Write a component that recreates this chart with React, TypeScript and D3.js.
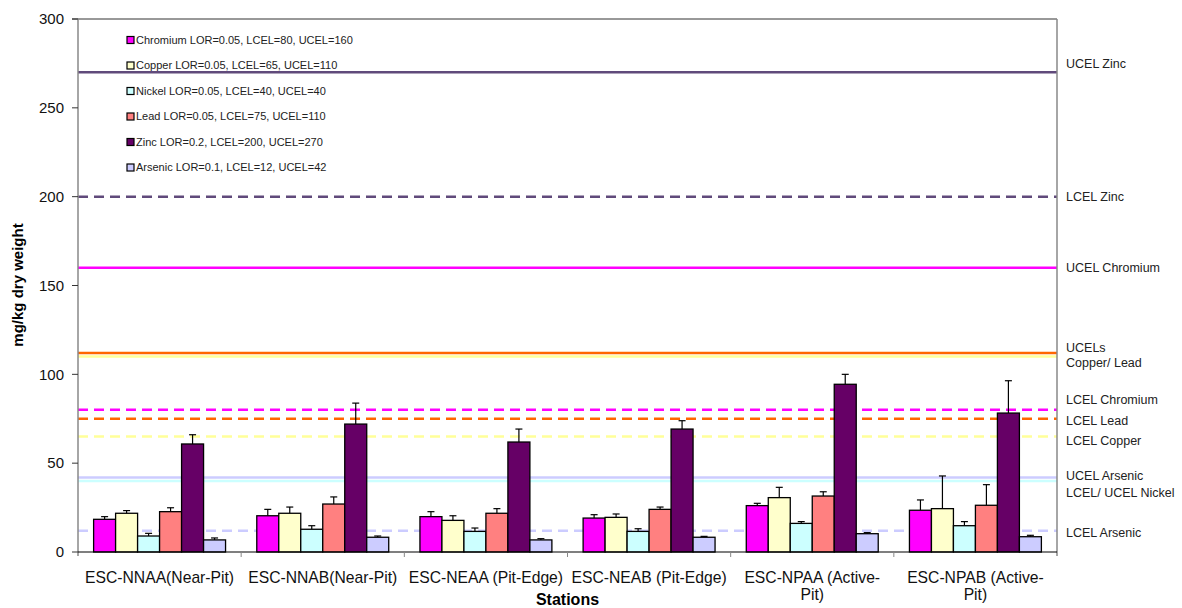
import React from 'react';
import * as d3 from 'd3';

// stations on the x axis (label lines as shown under the axis)
const stations = [
  'ESC-NNAA(Near-Pit)',
  'ESC-NNAB(Near-Pit)',
  'ESC-NEAA (Pit-Edge)',
  'ESC-NEAB (Pit-Edge)',
  'ESC-NPAA (Active-Pit)',
  'ESC-NPAB (Active-Pit)',
];
const stationLines = [
  ['ESC-NNAA(Near-Pit)'],
  ['ESC-NNAB(Near-Pit)'],
  ['ESC-NEAA (Pit-Edge)'],
  ['ESC-NEAB (Pit-Edge)'],
  ['ESC-NPAA (Active-', 'Pit)'],
  ['ESC-NPAB (Active-', 'Pit)'],
];

const metals = ['Chromium', 'Copper', 'Nickel', 'Lead', 'Zinc', 'Arsenic'];
const metalColors = ['#FF00FF', '#FFFFCC', '#CCFFFF', '#FF8080', '#660066', '#CCCCFF'];
const legendLabels = [
  'Chromium LOR=0.05, LCEL=80, UCEL=160',
  'Copper LOR=0.05, LCEL=65, UCEL=110',
  'Nickel LOR=0.05, LCEL=40, UCEL=40',
  'Lead LOR=0.05, LCEL=75, UCEL=110',
  'Zinc LOR=0.2, LCEL=200, UCEL=270',
  'Arsenic LOR=0.1, LCEL=12, UCEL=42',
];

// mean values per metal, one entry per station
const chromium = [18.4, 20.4, 19.9, 19.1, 26.1, 23.5];
const copper = [21.8, 21.8, 17.8, 19.5, 30.6, 24.4];
const nickel = [9.0, 12.8, 11.6, 11.6, 16.1, 14.8];
const lead = [22.7, 27.0, 21.8, 24.0, 31.5, 26.3];
const zinc = [60.8, 72.0, 61.9, 69.2, 94.4, 78.2];
const arsenic = [6.8, 8.3, 6.8, 8.3, 10.3, 8.6];

// error bar (upper) amounts
const chromiumErr = [1.5, 3.6, 2.8, 1.9, 1.3, 5.8];
const copperErr = [1.5, 3.5, 2.6, 1.9, 5.8, 18.4];
const nickelErr = [1.5, 2.0, 1.9, 1.5, 1.0, 2.3];
const leadErr = [2.2, 4.0, 2.6, 1.3, 2.4, 11.6];
const zincErr = [5.2, 11.8, 7.3, 4.7, 5.6, 18.2];
const arsenicErr = [1.1, 0.7, 0.7, 0.5, 0.6, 0.8];

const means = [chromium, copper, nickel, lead, zinc, arsenic];
const errs = [chromiumErr, copperErr, nickelErr, leadErr, zincErr, arsenicErr];

// guideline levels
const guideValues = [270, 200, 160, 112, 110, 80, 75, 65, 42, 40, 12];
const guideColors = ['#604A7B', '#604A7B', '#FF00FF', '#FF6600', '#FFFF99', '#FF00FF', '#FF6600', '#FFFF99', '#CCCCFF', '#CCFFFF', '#CCCCFF'];
const guideDashed = [false, true, false, false, false, true, true, true, false, false, true];

// labels on the right, placed at a value on the y axis
const rightLabels = [
  'UCEL Zinc', 'LCEL Zinc', 'UCEL Chromium', 'UCELs', 'Copper/ Lead',
  'LCEL Chromium', 'LCEL Lead', 'LCEL Copper', 'UCEL Arsenic', 'LCEL/ UCEL Nickel', 'LCEL Arsenic',
];
const rightLabelValues = [275, 200, 160, 115.2, 106.5, 85.5, 73.9, 62.6, 43.2, 33.4, 10.9];

const yTicks = [0, 50, 100, 150, 200, 250, 300];

export default function App() {
  const width = 1182;
  const height = 608;
  const left = 78;
  const right = 1057;
  const top = 19;
  const bottom = 552;
  const font = 'Arial, "Liberation Sans", Helvetica, sans-serif';

  const y = d3.scaleLinear().domain([0, 300]).range([bottom, top]);
  const x0 = d3.scaleBand().domain(stations).range([left, right]).padding(0);
  const x1 = d3.scaleBand().domain(metals).range([0, x0.bandwidth()]).paddingInner(0).paddingOuter(0.71);

  return (
    <svg width={width} height={height} style={{ position: 'absolute', left: 0, top: 0 }} fontFamily={font}>
      <rect x={0} y={0} width={width} height={height} fill="#fff" />

      {/* guideline lines */}
      {guideValues.map((v, i) => (
        <line
          key={'g' + i}
          x1={left}
          x2={right}
          y1={y(v)}
          y2={y(v)}
          stroke={guideColors[i]}
          strokeWidth={2.5}
          strokeDasharray={guideDashed[i] ? '10,6' : undefined}
        />
      ))}

      {/* bars */}
      {stations.map((s, si) => (
        <g key={s} transform={`translate(${x0(s)},0)`}>
          {metals.map((m, mi) => {
            const v = means[mi][si];
            const e = errs[mi][si];
            const bx = x1(m)!;
            const cx = bx + x1.bandwidth() / 2;
            return (
              <g key={m}>
                <line x1={cx} x2={cx} y1={y(v)} y2={y(v + e)} stroke="#000" strokeWidth={1.2} />
                <line x1={cx - 3.5} x2={cx + 3.5} y1={y(v + e)} y2={y(v + e)} stroke="#000" strokeWidth={1.2} />
                <rect
                  x={bx}
                  y={y(v)}
                  width={x1.bandwidth()}
                  height={bottom - y(v)}
                  fill={metalColors[mi]}
                  stroke="#000"
                  strokeWidth={1.3}
                />
              </g>
            );
          })}
        </g>
      ))}

      {/* frame */}
      <line x1={left - 6} x2={right} y1={top} y2={top} stroke="#333" strokeWidth={1} />
      <line x1={left} x2={left} y1={top} y2={bottom + 4} stroke="#888" strokeWidth={1.5} />
      <line x1={right} x2={right} y1={top} y2={bottom + 4} stroke="#888" strokeWidth={1.5} />
      <line x1={left} x2={right} y1={bottom} y2={bottom} stroke="#000" strokeWidth={1.2} />

      {/* y axis */}
      {yTicks.map((t) => (
        <g key={t}>
          <line x1={left - 6} x2={left} y1={y(t)} y2={y(t)} stroke="#333" strokeWidth={1} />
          <text x={left - 14} y={y(t)} dy="0.35em" textAnchor="end" fontSize={15} fill="#111">
            {t}
          </text>
        </g>
      ))}
      <text
        transform={`translate(23,285) rotate(-90)`}
        textAnchor="middle"
        fontSize={15}
        fontWeight="bold"
        fill="#000"
      >
        mg/kg dry weight
      </text>

      {/* x axis */}
      {stations.slice(1).map((s) => (
        <line key={'t' + s} x1={x0(s)} x2={x0(s)} y1={bottom} y2={bottom + 5} stroke="#888" strokeWidth={1} />
      ))}
      {stations.map((s, si) => (
        <text key={'l' + s} x={x0(s)! + x0.bandwidth() / 2} y={583} textAnchor="middle" fontSize={15.7} fill="#111">
          {stationLines[si].map((ln, li) => (
            <tspan key={li} x={x0(s)! + x0.bandwidth() / 2} dy={li === 0 ? 0 : 17}>
              {ln}
            </tspan>
          ))}
        </text>
      ))}
      <text x={(left + right) / 2} y={605} textAnchor="middle" fontSize={16} fontWeight="bold" fill="#000">
        Stations
      </text>

      {/* legend */}
      {legendLabels.map((l, i) => (
        <g key={l} transform={`translate(127,${40 + i * 25.5})`}>
          <rect x={0} y={-3.5} width={7} height={7} fill={metalColors[i]} stroke="#000" strokeWidth={1.2} />
          <text x={9} y={0} dy="0.35em" fontSize={11} fill="#222">
            {l}
          </text>
        </g>
      ))}

      {/* right-hand labels */}
      {rightLabels.map((l, i) => (
        <text key={l} x={1066} y={y(rightLabelValues[i])} dy="0.35em" fontSize={12.5} fill="#222">
          {l}
        </text>
      ))}
    </svg>
  );
}
